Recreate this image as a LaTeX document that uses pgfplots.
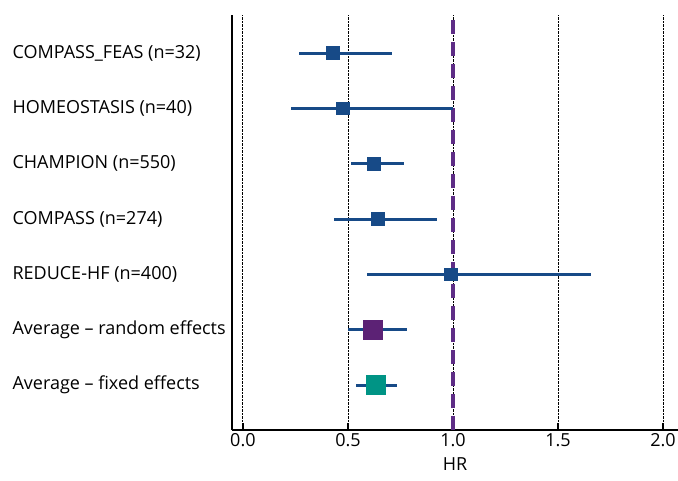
\documentclass[border=0pt]{standalone}
\usepackage{pgfplots}
\pgfplotsset{compat=1.18}
\usepackage{pgfplotstable}
\usepackage{fontspec}
\setmainfont{Open Sans}
\definecolor{ciblue}{HTML}{174A87}
\definecolor{refpurple}{HTML}{5E2D86}
\definecolor{rndpurple}{HTML}{5C2275}
\definecolor{fixteal}{HTML}{009485}
\pgfplotstableread{
y x lo hi
7 0.43 0.267 0.71
6 0.476 0.229 1.0
5 0.624 0.514 0.767
4 0.643 0.433 0.924
3 0.99 0.59 1.657
}\studies
\pgfplotstableread{
y x lo hi
2 0.62 0.50 0.78
}\random
\pgfplotstableread{
y x lo hi
1 0.633 0.538 0.733
}\fixed
\pgfplotstableread{
x y
1 0.187
1 7.69
}\refline
\begin{document}
\begin{tikzpicture}
\useasboundingbox (-232pt,-50pt) rectangle (446pt,430pt);
\begin{axis}[
  at={(0,0)}, anchor=south west,
  scale only axis, width=446pt, height=415pt,
  xmin=-0.052, xmax=2.071,
  ymin=0.187, ymax=7.69,
  axis x line*=bottom, axis y line*=left,
  axis line style={line width=1.6pt, black, -},
  xtick={0,0.5,1,1.5,2},
  xticklabel style={/pgf/number format/.cd, fixed, fixed zerofill, precision=1},
  /pgf/number format/assume math mode=true,
  x tick style={line width=1.6pt, black},
  major tick length=7pt,
  xtick pos=bottom, tick align=inside,
  xmajorgrids, major grid style={black, densely dotted, line width=0.9pt},
  ytick={1,...,7},
  yticklabels={Average -- fixed effects, Average -- random effects, REDUCE-HF (n=400), COMPASS (n=274), CHAMPION (n=550), HOMEOSTASIS (n=40), COMPASS\_FEAS (n=32)},
  y tick style={draw=none},
  yticklabel style={anchor=west, xshift=-223pt},
  ticklabel style={font=\fontsize{18}{20}\selectfont},
  xlabel={HR}, xlabel style={font=\fontsize{18}{20}\selectfont, yshift=-4pt},
  clip=false,
]
\addplot[color=refpurple, mark=none, line width=3.2pt, dash pattern=on 14pt off 8pt] table[x=x,y=y] {\refline};
\addplot[only marks, mark=square*, mark size=5.5pt, ciblue, line width=2.6pt,
  error bars/.cd, x dir=both, x explicit,
  error bar style={line width=3pt, ciblue}, error mark=none]
  table[x=x, y=y, x error plus expr=\thisrow{hi}-\thisrow{x}, x error minus expr=\thisrow{x}-\thisrow{lo}] {\studies};
\addplot[only marks, draw=none, mark=none,
  error bars/.cd, x dir=both, x explicit,
  error bar style={line width=3pt, ciblue}, error mark=none]
  table[x=x, y=y, x error plus expr=\thisrow{hi}-\thisrow{x}, x error minus expr=\thisrow{x}-\thisrow{lo}] {\random};
\addplot[only marks, mark=square*, mark size=9.5pt, mark options={draw=rndpurple, fill=rndpurple, line width=0pt}]
  table[x=x, y=y] {\random};
\addplot[only marks, draw=none, mark=none,
  error bars/.cd, x dir=both, x explicit,
  error bar style={line width=3pt, ciblue}, error mark=none]
  table[x=x, y=y, x error plus expr=\thisrow{hi}-\thisrow{x}, x error minus expr=\thisrow{x}-\thisrow{lo}] {\fixed};
\addplot[only marks, mark=square*, mark size=9.5pt, mark options={draw=fixteal, fill=fixteal, line width=0pt}]
  table[x=x, y=y] {\fixed};
\end{axis}
\end{tikzpicture}
\end{document}
